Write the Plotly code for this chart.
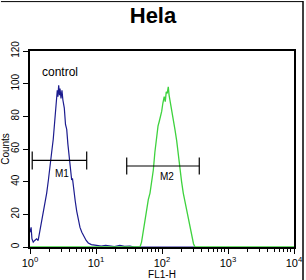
import plotly.graph_objects as go
import numpy as np

# Data
control_x = [1.00, 1.04, 1.07, 1.12, 1.18, 1.26, 1.33, 1.40, 1.50, 1.60, 1.70, 1.79, 1.90, 2.00,
             2.13, 2.25, 2.39, 2.50, 2.59, 2.65, 2.72, 2.80, 2.85, 2.95, 3.05, 3.15, 3.31, 3.45,
             3.60, 3.75, 3.94, 4.10, 4.28, 4.40, 4.64, 4.85, 5.10, 5.40, 5.72, 6.10, 6.58, 7.10,
             7.64, 8.5, 10.2, 12, 14, 16.3, 19, 23, 27, 32.7, 38, 50, 100, 320]
control_y = [9, 12, 5, 3, 4, 5, 4, 9, 15, 21, 27, 33, 41, 50,
             58, 66, 78, 88, 96, 92, 99, 93, 97, 91, 96, 90, 85, 75,
             72, 63, 55, 46, 41, 42, 33, 28, 22, 16, 12, 9, 6, 4,
             2.5, 1.5, 1, 0.5, 1, 0.8, 0.3, 1, 0.4, 0.6, 0, 0, 0, 0]

hela_x = [1, 46.4, 49, 52, 55, 58.6, 62, 65.8, 70, 73.8, 78, 83.2, 87, 91, 95, 98.9, 103, 108,
          112, 116, 120, 124.5, 128, 132, 140, 148, 157, 167, 177, 187, 198, 210, 230, 250,
          265, 282, 300, 316, 10000]
hela_y = [0, 0, 3, 10, 17, 25, 29, 33, 40, 47, 58, 70, 74, 77, 80, 83, 88, 92,
          89, 95, 94, 98, 93, 90, 84, 80, 72, 65, 55, 47, 40, 33, 25, 18,
          12, 6, 2, 0, 0]

m1_range = [1.08, 7.23]
m1_level = 53
m2_range = [29.2, 367]
m2_level = 49.6

x_tickvals = [1, 10, 100, 1000, 10000]
x_ticktext = ["10<sup>0</sup>", "10<sup>1</sup>", "10<sup>2</sup>", "10<sup>3</sup>", "10<sup>4</sup>"]
y_tickvals = [0, 20, 40, 60, 80, 100, 120]

FONT = "Liberation Sans, Arial, sans-serif"

fig = go.Figure()
fig.add_trace(go.Scatter(x=control_x, y=control_y, mode="lines",
                         line=dict(color="#1c1c8f", width=1.2), hoverinfo="skip"))
fig.add_trace(go.Scatter(x=hela_x, y=hela_y, mode="lines",
                         line=dict(color="#3ed23e", width=1.3), hoverinfo="skip"))

def marker(rng, level, half):
    xs = [rng[0], rng[0], None, rng[0], rng[1], None, rng[1], rng[1]]
    ys = [level - half, level + half, None, level, level, None, level - half, level + half]
    return go.Scatter(x=xs, y=ys, mode="lines", line=dict(color="black", width=1.2),
                      hoverinfo="skip")

fig.add_trace(marker(m1_range, m1_level, 5.5))
fig.add_trace(marker(m2_range, m2_level, 5.2))

minor_vals = [m * 10 ** d for d in range(4) for m in range(2, 10)]

fig.update_layout(
    width=306, height=280,
    margin=dict(l=30, r=12, t=51, b=33),
    paper_bgcolor="white", plot_bgcolor="white",
    showlegend=False,
    font=dict(family=FONT, color="black"),
    title=dict(text="<b>Hela</b>", x=0.5, xanchor="center", y=1 - 15 / 280, yanchor="middle",
               xref="container", yref="container", font=dict(size=22, family=FONT, color="black")),
    xaxis=dict(type="log", range=[0, 4], showline=True, linecolor="black", linewidth=1.5,
               mirror=True, showgrid=False, zeroline=False, automargin=False,
               tickmode="array", tickvals=x_tickvals, ticktext=x_ticktext,
               ticks="outside", ticklen=5, tickcolor="black",
               tickfont=dict(size=11, family=FONT),
               minor=dict(tickmode="array", tickvals=minor_vals, ticks="outside", ticklen=3,
                          tickcolor="black", showgrid=False),
               title=dict(text="FL1-H", font=dict(size=10, family=FONT), standoff=0)),
    yaxis=dict(range=[0, 120], showline=True, linecolor="black", linewidth=1.5,
               mirror=True, showgrid=False, zeroline=False, automargin=False,
               tickmode="array", tickvals=y_tickvals, ticks="outside", ticklen=5,
               tickcolor="black", tickangle=-90, tickfont=dict(size=10, family=FONT),
               title=dict(text="Counts", font=dict(size=10, family=FONT), standoff=0)),
)

fig.add_annotation(x=np.log10(2.85), y=107, text="control", showarrow=False,
                   font=dict(size=12, family=FONT))
fig.add_annotation(x=np.log10(3.02), y=45, text="M1", showarrow=False,
                   font=dict(size=10, family=FONT))
fig.add_annotation(x=np.log10(118), y=43, text="M2", showarrow=False,
                   font=dict(size=10, family=FONT))

# outer image border (top, right)
fig.add_shape(type="line", xref="paper", yref="paper", x0=1.0341, x1=1.0341, y0=-0.17, y1=1.255,
              line=dict(color="black", width=1.5))
fig.add_shape(type="line", xref="paper", yref="paper", x0=-0.11, x1=1.0341, y0=1.252, y1=1.252,
              line=dict(color="black", width=1))

fig.write_html("out.html")
